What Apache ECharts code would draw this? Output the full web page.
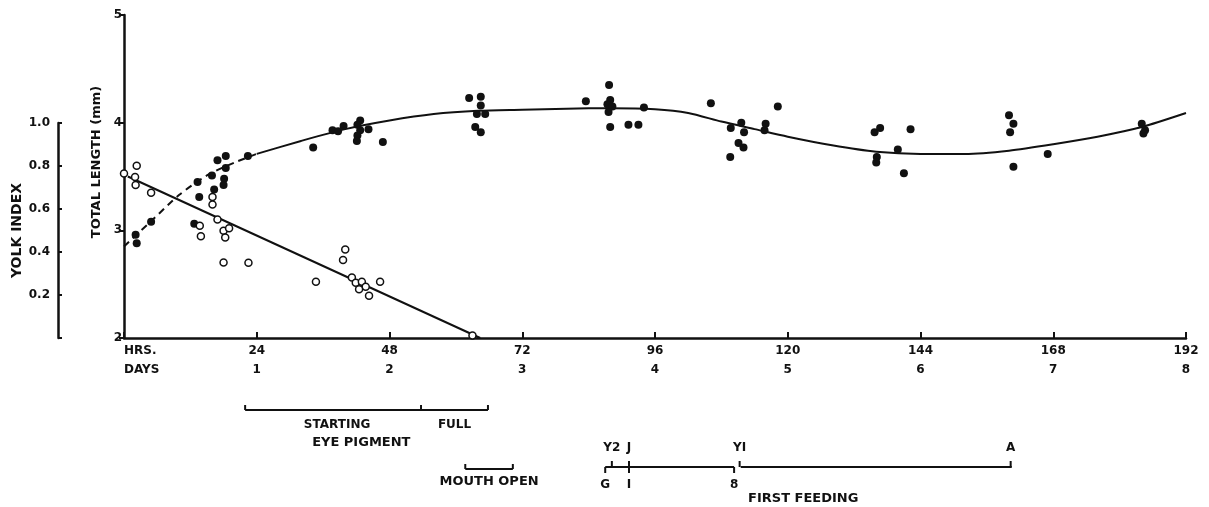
<!DOCTYPE html>
<html>
<head>
<meta charset="utf-8">
<script src="https://cdn.jsdelivr.net/npm/echarts@6/dist/echarts.min.js"></script>
<style>
  html, body { margin: 0; padding: 0; background: #fff; }
  #chart { width: 1209px; height: 507px; }
</style>
</head>
<body>
<div id="chart"></div>
<script>
// Total length (mm) of individual larvae: [hours after hatching, length]
const lengthPoints = [
  [2.3, 2.88], [2.1, 2.96], [4.9, 3.08], [12.7, 3.06], [13.3, 3.45], [13.6, 3.31],
  [15.9, 3.51], [16.3, 3.38], [16.9, 3.65], [18.4, 3.69], [18.4, 3.58], [18.1, 3.48],
  [18.0, 3.42], [22.4, 3.69],
  [34.2, 3.77], [37.7, 3.93], [38.7, 3.92], [39.7, 3.97], [42.7, 4.02], [42.2, 3.98],
  [42.7, 3.93], [42.2, 3.88], [42.1, 3.83], [44.2, 3.94], [46.8, 3.82],
  [62.4, 4.23], [64.5, 4.24], [64.5, 4.16], [63.8, 4.08], [65.3, 4.08], [63.5, 3.96], [64.5, 3.91],
  [83.5, 4.20], [87.7, 4.35], [87.9, 4.21], [87.4, 4.17], [88.3, 4.15], [87.6, 4.10],
  [87.9, 3.96], [91.2, 3.98], [93.0, 3.98], [94.0, 4.14],
  [106.1, 4.18], [109.7, 3.95], [111.6, 4.00], [112.1, 3.91], [111.1, 3.81], [112.0, 3.77],
  [109.6, 3.68], [116.0, 3.99], [115.8, 3.93], [118.2, 4.15],
  [135.7, 3.91], [136.7, 3.95], [136.1, 3.68], [136.0, 3.63], [142.2, 3.94], [139.9, 3.75], [141.0, 3.53],
  [160.0, 4.07], [160.8, 3.99], [160.2, 3.91], [160.8, 3.59], [167.0, 3.71],
  [184.0, 3.99], [184.6, 3.93], [184.3, 3.90]
];

// Yolk index of individual larvae: [hours, index]
const yolkPoints = [
  [0.0, 0.764], [2.3, 0.80], [2.0, 0.748], [2.1, 0.71], [4.9, 0.674],
  [13.7, 0.521], [13.9, 0.473], [16.0, 0.655], [16.0, 0.62], [16.9, 0.55],
  [18.0, 0.498], [19.0, 0.51], [18.3, 0.467], [18.0, 0.351], [22.5, 0.349],
  [34.7, 0.261], [40.0, 0.411], [39.6, 0.362], [41.2, 0.281], [41.9, 0.257],
  [43.0, 0.261], [43.7, 0.238], [42.5, 0.226], [44.3, 0.196], [46.3, 0.261],
  [63.0, 0.012]
];

// Fitted growth curve (dashed during the first day, solid afterwards)
const lengthCurveEarly = [
  [0, 2.85], [5, 3.09], [10, 3.33], [15, 3.51], [20, 3.63], [24, 3.71]
];
const lengthCurveLate = [
  [24, 3.71], [32, 3.83], [40, 3.94], [48, 4.02], [56, 4.08], [64, 4.11], [72, 4.12],
  [80, 4.13], [88, 4.135], [96, 4.125], [102, 4.09], [108, 4.01], [114, 3.94], [120, 3.87],
  [128, 3.79], [136, 3.73], [144, 3.71], [152, 3.71], [160, 3.74], [168, 3.80],
  [176, 3.87], [184, 3.96], [192, 4.09]
];

// Yolk absorption line
const yolkLine = [[0.7, 0.75], [64.4, 0]];

// Developmental events (hours)
const eyePigmentMarks = [21.9, 53.7, 65.8];
const mouthOpenMarks = [61.7, 70.3];
const feedingSpans = [[87, 110.3], [111.5, 160.5]];
const stageUpper = [['Y2', 88.2], ['J', 91.3], ['YI', 111.3], ['A', 160.3]];
const stageLower = [['G', 87], ['I', 91.3], ['8', 110.3]];

const FONT = '"DejaVu Sans", sans-serif';
const INK = '#111';

function renderEvents(params, api) {
  const X = h => api.coord([h, 2])[0];
  const base = api.coord([0, 2])[1];
  const ln = (x1, y1, x2, y2) => ({
    type: 'line', shape: { x1, y1, x2, y2 },
    style: { stroke: INK, lineWidth: 2 }
  });
  const tx = (text, x, y, align, size) => ({
    type: 'text',
    style: {
      text, x, y, align: align || 'center', verticalAlign: 'middle',
      font: 'bold ' + (size || 12) + 'px ' + FONT, fill: INK
    }
  });
  const c = [];

  // Eye pigment: starting / full
  const yEye = base + 72;
  c.push(ln(X(eyePigmentMarks[0]), yEye, X(eyePigmentMarks[2]), yEye));
  eyePigmentMarks.forEach(h => c.push(ln(X(h), yEye, X(h), yEye - 5)));
  c.push(tx('STARTING', (X(eyePigmentMarks[0]) + X(eyePigmentMarks[1])) / 2 + 4, base + 87));
  c.push(tx('FULL', (X(eyePigmentMarks[1]) + X(eyePigmentMarks[2])) / 2, base + 87));
  c.push(tx('EYE PIGMENT', X(42.9), base + 105, 'center', 13));

  // Mouth open
  const yMouth = base + 131;
  c.push(ln(X(mouthOpenMarks[0]), yMouth, X(mouthOpenMarks[1]), yMouth));
  mouthOpenMarks.forEach(h => c.push(ln(X(h), yMouth, X(h), yMouth - 5)));
  c.push(tx('MOUTH OPEN', X(66), base + 144, 'center', 13));

  // Feeding stages
  const yFeed = base + 129;
  feedingSpans.forEach(s => c.push(ln(X(s[0]), yFeed, X(s[1]), yFeed)));
  stageUpper.forEach(s => c.push(tx(s[0], X(s[1]), base + 110)));
  stageLower.forEach(s => c.push(tx(s[0], X(s[1]), base + 147)));
  // tick marks: lower-stage ticks point down, upper-stage ticks point up
  stageLower.forEach(s => c.push(ln(X(s[1]), yFeed, X(s[1]), yFeed + 6)));
  stageUpper.forEach(s => c.push(ln(X(s[1]), yFeed, X(s[1]), yFeed - 6)));
  c.push(tx('FIRST FEEDING', X(122.8), base + 161, 'center', 13));

  return { type: 'group', children: c };
}

const chart = echarts.init(document.getElementById('chart'), null, { renderer: 'canvas' });

chart.setOption({
  animation: false,
  backgroundColor: '#fff',
  grid: [
    { left: 124, right: 23, top: 15, bottom: 169 },
    { left: 58, width: 10, top: 123, bottom: 169 }
  ],
  xAxis: [
    {
      gridIndex: 0, type: 'value', min: 0, max: 192, interval: 24,
      axisLine: { show: true, onZero: false, lineStyle: { color: INK, width: 2.5 } },
      axisTick: { show: true, inside: true, length: 6, lineStyle: { color: INK, width: 2 } },
      splitLine: { show: false },
      axisLabel: {
        margin: 3,
        alignMinLabel: 'left',
        formatter: v => v === 0 ? '{a|HRS.}\n{a|DAYS}' : '{a|' + v + '}\n{a|' + (v / 24) + '}',
        rich: { a: { fontFamily: FONT, fontSize: 12, fontWeight: 'bold', color: INK, lineHeight: 19 } }
      }
    },
    { gridIndex: 1, type: 'value', show: false, min: 0, max: 1 }
  ],
  yAxis: [
    {
      gridIndex: 0, type: 'value', min: 2, max: 5, interval: 1,
      axisLine: { show: true, onZero: false, lineStyle: { color: INK, width: 2.5 } },
      axisTick: { show: true, inside: false, length: 5, lineStyle: { color: INK, width: 2 } },
      splitLine: { show: false },
      axisLabel: { margin: 2, fontFamily: FONT, fontSize: 12, fontWeight: 'bold', color: INK },
      name: 'TOTAL LENGTH (mm)',
      nameLocation: 'middle', nameRotate: 90, nameGap: 19,
      nameTextStyle: { fontFamily: FONT, fontSize: 13, fontWeight: 'bold', color: INK, padding: [0, 0, 0, 29] }
    },
    { gridIndex: 0, type: 'value', min: 0, max: 1.5, show: false },
    {
      gridIndex: 1, type: 'value', min: 0, max: 1, interval: 0.2,
      axisLine: { show: true, onZero: false, lineStyle: { color: INK, width: 2.5 } },
      axisTick: { show: true, inside: true, length: 4, lineStyle: { color: INK, width: 2 } },
      splitLine: { show: false },
      axisLabel: {
        margin: 8, fontFamily: FONT, fontSize: 12, fontWeight: 'bold', color: INK,
        formatter: v => v === 0 ? '' : v.toFixed(1)
      },
      name: 'YOLK INDEX',
      nameLocation: 'middle', nameRotate: 90, nameGap: 33,
      nameTextStyle: { fontFamily: FONT, fontSize: 14, fontWeight: 'bold', color: INK }
    }
  ],
  series: [
    {
      type: 'line', xAxisIndex: 0, yAxisIndex: 0, data: lengthCurveEarly,
      smooth: 0.25, showSymbol: false, z: 2,
      lineStyle: { color: INK, width: 2, type: [7, 5] }
    },
    {
      type: 'line', xAxisIndex: 0, yAxisIndex: 0, data: lengthCurveLate,
      smooth: 0.25, showSymbol: false, z: 2,
      lineStyle: { color: INK, width: 2 }
    },
    {
      type: 'line', xAxisIndex: 0, yAxisIndex: 1, data: yolkLine,
      showSymbol: false, z: 2,
      lineStyle: { color: INK, width: 2 }
    },
    {
      type: 'scatter', xAxisIndex: 0, yAxisIndex: 0, data: lengthPoints,
      symbol: 'circle', symbolSize: 8, z: 4,
      itemStyle: { color: INK, opacity: 1 }
    },
    {
      type: 'scatter', xAxisIndex: 0, yAxisIndex: 1, data: yolkPoints,
      symbol: 'circle', symbolSize: 7, z: 5,
      itemStyle: { color: '#fff', borderColor: INK, borderWidth: 1.5, opacity: 1 }
    },
    {
      type: 'custom', xAxisIndex: 0, yAxisIndex: 0, data: [[0, 2]],
      clip: false, silent: true, z: 1,
      renderItem: renderEvents
    }
  ]
});
</script>
</body>
</html>
